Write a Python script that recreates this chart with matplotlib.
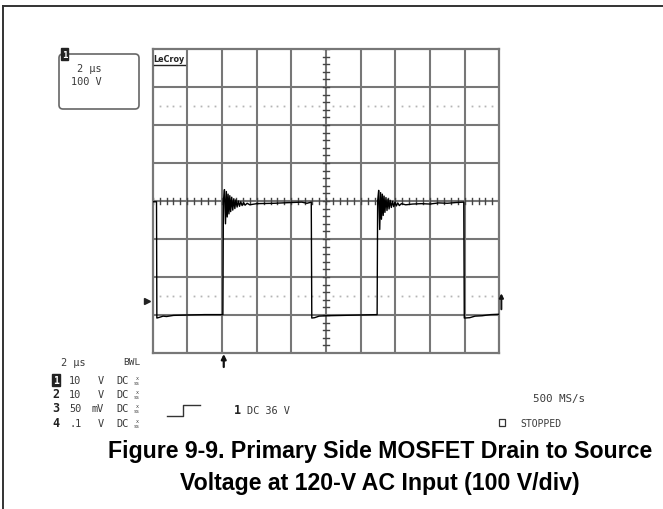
import numpy as np
import matplotlib
matplotlib.use("Agg")
import matplotlib.pyplot as plt
from matplotlib.patches import FancyBboxPatch, Rectangle

# ---- scope trace: drain-source voltage (time in us, volts) ----
trace_t = [0.0, 0.15, 0.22, 0.24, 0.40, 0.60, 0.80, 1.20, 2.0, 3.0, 4.05,
           4.08, 4.14, 4.20, 4.25, 4.30, 4.35, 4.40, 4.45, 4.50, 4.56, 4.62,
           4.68, 4.74, 4.80, 4.87, 4.94, 5.01, 5.08, 5.16, 5.24, 5.33, 5.45,
           5.60, 6.0, 7.0, 8.0, 8.6, 8.9, 9.15,
           9.18, 9.35, 9.60, 10.0, 11.0, 12.0, 12.95,
           12.98, 13.04, 13.10, 13.15, 13.20, 13.25, 13.30, 13.35, 13.40,
           13.46, 13.52, 13.58, 13.64, 13.70, 13.77, 13.84, 13.91, 13.98,
           14.06, 14.14, 14.23, 14.35, 14.60, 15.0, 15.5, 16.0, 16.5, 17.0,
           17.5, 17.95,
           17.98, 18.3, 18.6, 19.0, 19.5, 20.0]
trace_v = [298, 298, 298, -8, -6, -3, -4, -1, 0, 1, 1,
           300, 330, 240, 325, 258, 318, 266, 314, 272, 310, 276,
           306, 280, 303, 284, 300, 286, 298, 288, 296, 289, 294,
           290, 293, 294, 296, 297, 294, 297,
           -8, -7, -3, -2, -1, 0, 1,
           300, 328, 225, 322, 252, 318, 262, 313, 270,
           309, 275, 305, 279, 302, 283, 299, 285, 297,
           287, 295, 288, 293, 290, 292, 293, 292, 295, 294,
           296, 297,
           -8, -7, -3, -2, 1, 2]

time_per_div = 2.0      # us/div
volts_per_div = 100.0   # V/div
n_xdiv, n_ydiv = 10, 8
v_bottom = -100.0
trigger_level = 36.0    # V
trigger_time = 4.1      # us

W, H = 663, 510
fig = plt.figure(figsize=(W / 100, H / 100), dpi=100)

# overlay in pixel coordinates for the frame and the readout text
ov = fig.add_axes([0, 0, 1, 1], zorder=0)
ov.set_xlim(0, W)
ov.set_ylim(H, 0)
ov.axis("off")

ov.plot([3, W], [7, 7], color="#333333", lw=1.4)
ov.plot([3, 3], [7, H], color="#333333", lw=1.4)

mono = "DejaVu Sans Mono"
tc = "#3a3a3a"
fs = 7.4

# timebase / channel box
ov.add_patch(FancyBboxPatch((59, 55), 80, 55, boxstyle="round,pad=0,rounding_size=4",
                            fc="white", ec="#666666", lw=1.2))
ov.text(64.5, 55, "1", ha="center", va="center", fontsize=6.5, family=mono,
        fontweight="bold", color="white",
        bbox=dict(boxstyle="square,pad=0.12", fc="#222222", ec="#222222"))
ov.text(77, 69, "2 µs", ha="left", va="center", fontsize=fs, family=mono, color=tc)
ov.text(71, 82, "100 V", ha="left", va="center", fontsize=fs, family=mono, color=tc)

# lower-left readout
ov.text(61, 363, "2 µs", ha="left", va="center", fontsize=fs, family=mono, color=tc)
ov.text(123, 363, "BWL", ha="left", va="center", fontsize=6.8, family=mono, color=tc)
rows = [("1", "10", "V"), ("2", "10", "V"), ("3", "50", "mV"), ("4", ".1", "V")]
row_y = [381, 395, 409, 424]
for (ch, val, unit), y in zip(rows, row_y):
    if ch == "1":
        ov.text(56, y, ch, ha="center", va="center", fontsize=7, family=mono,
                fontweight="bold", color="white",
                bbox=dict(boxstyle="square,pad=0.08", fc="#222222", ec="#222222"))
    else:
        ov.text(56, y, ch, ha="center", va="center", fontsize=8.5, family=mono,
                fontweight="bold", color="#222222")
    ov.text(69, y, val, ha="left", va="center", fontsize=fs, family=mono, color=tc)
    ov.text(98 if unit == "V" else 91, y, unit, ha="left", va="center",
            fontsize=fs, family=mono, color=tc)
    ov.text(116, y, "DC", ha="left", va="center", fontsize=fs, family=mono, color=tc)
    ov.text(137, y - 2.5, "x", ha="center", va="center", fontsize=3.6, family=mono, color=tc)
    ov.text(137, y + 2.5, "ss", ha="center", va="center", fontsize=3.6, family=mono, color=tc)

# trigger slope symbol and setting
ov.plot([167, 183, 183, 200], [417, 417, 406, 406], color="#333333", lw=1.0)
ov.text(237, 411, "1", ha="center", va="center", fontsize=8.5, family=mono,
        fontweight="bold", color="#222222")
ov.text(247, 411, "DC 36 V", ha="left", va="center", fontsize=fs, family=mono, color=tc)

# lower-right readout
ov.text(533, 399, "500 MS/s", ha="left", va="center", fontsize=7.8, family=mono, color=tc)
ov.add_patch(Rectangle((499, 420), 6, 7, fc="white", ec="#333333", lw=0.9))
ov.text(520, 424, "STOPPED", ha="left", va="center", fontsize=7.0, family=mono, color=tc)

# caption
cap = dict(ha="center", va="center", fontsize=16.7, fontweight="bold",
           family="Liberation Sans", color="black")
ov.text(380, 452, "Figure 9-9. Primary Side MOSFET Drain to Source", **cap)
ov.text(380, 484, "Voltage at 120-V AC Input (100 V/div)", **cap)

# ---- graticule ----
x0, x1, y0, y1 = 152.7, 499.3, 50.0, 354.0
ax = fig.add_axes([x0 / W, 1 - y1 / H, (x1 - x0) / W, (y1 - y0) / H], zorder=2)
ax.patch.set_alpha(0)
t_max = n_xdiv * time_per_div
v_top = v_bottom + n_ydiv * volts_per_div
ax.set_xlim(0, t_max)
ax.set_ylim(v_bottom, v_top)
grid_c = "#777777"
for s in ax.spines.values():
    s.set_color(grid_c)
    s.set_linewidth(1.6)
ax.set_xticks([])
ax.set_yticks([])
for k in range(1, n_xdiv):
    ax.axvline(k * time_per_div, color=grid_c, lw=1.5, zorder=1)
for k in range(1, n_ydiv):
    ax.axhline(v_bottom + k * volts_per_div, color=grid_c, lw=1.5, zorder=1)

t_mid = t_max / 2
v_mid = (v_bottom + v_top) / 2
px_t = t_max / (x1 - x0)
px_v = (v_top - v_bottom) / (y1 - y0)
# minor ticks on the centre axes
for v in np.arange(v_bottom, v_top + 1e-9, volts_per_div / 5):
    ax.plot([t_mid - 3.2 * px_t, t_mid + 3.2 * px_t], [v, v], color="#444444", lw=1.0, zorder=1)
for t in np.arange(0, t_max + 1e-9, time_per_div / 5):
    ax.plot([t, t], [v_mid - 3.2 * px_v, v_mid + 3.2 * px_v], color="#444444", lw=1.0, zorder=1)

# dotted reference rows
dots_t = [t for t in np.arange(0, t_max + 1e-9, time_per_div / 5)
          if abs(t / time_per_div - round(t / time_per_div)) > 1e-6]
for v in (v_mid + 2.5 * volts_per_div, v_mid - 2.5 * volts_per_div):
    ax.plot(dots_t, [v] * len(dots_t), ls="none", marker="s", ms=1.3,
            color="#b5b5b5", mec="none", zorder=1)

# LeCroy label in the first cell
ax.text(0.06, v_top - 0.12 * volts_per_div, "LeCroy", ha="left", va="top",
        fontsize=5.8, fontweight="bold", family="DejaVu Sans", color="#222222",
        zorder=4)
ax.plot([0.08, 1.85], [v_top - 0.42 * volts_per_div] * 2, color="#222222", lw=1.0, zorder=4)

# waveform
ax.plot(trace_t, trace_v, color="black", lw=1.0, zorder=3)

# trigger markers
ax.plot([-0.33], [trigger_level], marker=">", ms=4.5, color="#222222", clip_on=False, zorder=5)
ax.annotate("", xy=(trigger_time, v_bottom - 1.0 * px_v),
            xytext=(trigger_time, v_bottom - 14 * px_v),
            arrowprops=dict(arrowstyle="-|>", color="#111111", lw=1.6,
                            mutation_scale=7, shrinkA=0, shrinkB=0),
            annotation_clip=False)
ax.annotate("", xy=(t_max + 0.12, trigger_level + 8 * px_v),
            xytext=(t_max + 0.12, trigger_level - 8 * px_v),
            arrowprops=dict(arrowstyle="-|>", color="#111111", lw=1.4,
                            mutation_scale=6, shrinkA=0, shrinkB=0),
            annotation_clip=False)

fig.savefig("out.png", dpi=100)
